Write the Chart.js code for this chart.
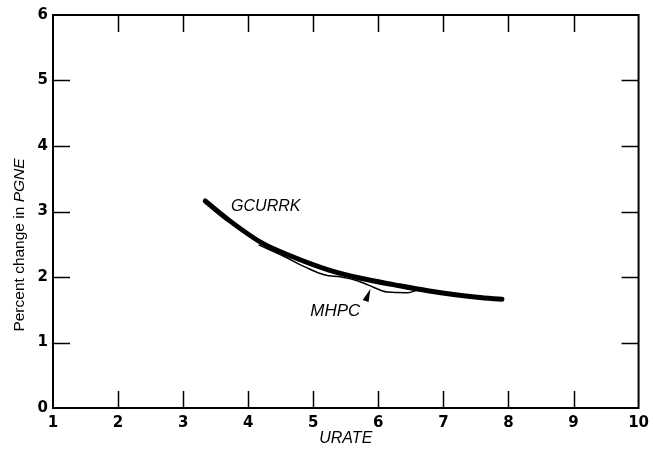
<!DOCTYPE html>
<html>
<head>
<meta charset="utf-8">
<script src="https://cdn.jsdelivr.net/npm/chart.js@4.4.0/dist/chart.umd.min.js"></script>
<style>
  html, body { margin: 0; padding: 0; background: #fff; }
  #wrap { width: 655px; height: 451px; }
</style>
</head>
<body>
<div id="wrap"><canvas id="myChart" width="655" height="451"></canvas></div>
<script>
// datos
const gcurrkX = [3.34, 3.70, 4.21, 4.73, 5.23, 5.73, 6.25, 6.76, 7.52, 7.90];
const gcurrkY = [3.16, 2.87, 2.52, 2.29, 2.11, 1.98, 1.88, 1.79, 1.69, 1.66];
const mhpcX = [4.16, 4.54, 4.88, 5.18, 5.43, 5.69, 5.84, 6.14, 6.45, 6.60];
const mhpcY = [2.49, 2.32, 2.15, 2.03, 2.00, 1.94, 1.88, 1.77, 1.76, 1.80];
const xTicks = [1, 2, 3, 4, 5, 6, 7, 8, 9, 10];
const yTicks = [0, 1, 2, 3, 4, 5, 6];

const FONT = "'Liberation Sans', Arial, sans-serif";
const TICKFONT = "'DejaVu Sans', sans-serif";
const pares = (xs, ys) => xs.map((x, i) => ({ x: x, y: ys[i] }));

// marco, marcas interiores, títulos y etiquetas
const decoracion = {
  id: "decoracion",
  afterDraw(c) {
    const ctx = c.ctx;
    const { left, right, top, bottom } = c.chartArea;
    const sx = c.scales.x, sy = c.scales.y;
    ctx.save();
    ctx.strokeStyle = "#000";
    ctx.lineWidth = 2;
    ctx.strokeRect(left, top, right - left, bottom - top);

    ctx.lineWidth = 1.5;
    const L = 17;
    xTicks.slice(1, -1).forEach(v => {
      const px = Math.round(sx.getPixelForValue(v)) + 0.5;
      ctx.beginPath();
      ctx.moveTo(px, bottom); ctx.lineTo(px, bottom - L);
      ctx.moveTo(px, top); ctx.lineTo(px, top + L);
      ctx.stroke();
    });
    yTicks.slice(1, -1).forEach(v => {
      const py = Math.round(sy.getPixelForValue(v)) + 0.5;
      ctx.beginPath();
      ctx.moveTo(left, py); ctx.lineTo(left + L, py);
      ctx.moveTo(right, py); ctx.lineTo(right - L, py);
      ctx.stroke();
    });

    // título eje x
    ctx.fillStyle = "#000";
    ctx.textAlign = "center";
    ctx.textBaseline = "middle";
    ctx.font = "italic 16px " + FONT;
    ctx.fillText("URATE", (left + right) / 2, 439);

    // título eje y (texto mixto)
    ctx.save();
    ctx.translate(20, 245);
    ctx.rotate(-Math.PI / 2);
    const a = "Percent change in ";
    const b = "PGNE";
    ctx.font = "15.5px " + FONT;
    const wa = ctx.measureText(a).width;
    ctx.font = "italic 15.5px " + FONT;
    const wb = ctx.measureText(b).width;
    const x0 = -(wa + wb) / 2;
    ctx.textAlign = "left";
    ctx.font = "15.5px " + FONT;
    ctx.fillText(a, x0, 0);
    ctx.font = "italic 15.5px " + FONT;
    ctx.fillText(b, x0 + wa, 0);
    ctx.restore();

    // etiquetas de las curvas
    ctx.font = "italic 16px " + FONT;
    ctx.textAlign = "center";
    ctx.fillText("GCURRK", sx.getPixelForValue(4.27), sy.getPixelForValue(3.08));
    ctx.font = "italic 17px " + FONT;
    ctx.fillText("MHPC", sx.getPixelForValue(5.34), sy.getPixelForValue(1.48));

    // flecha hacia MHPC
    ctx.beginPath();
    ctx.moveTo(sx.getPixelForValue(5.88), sy.getPixelForValue(1.82));
    ctx.lineTo(sx.getPixelForValue(5.76), sy.getPixelForValue(1.65));
    ctx.lineTo(sx.getPixelForValue(5.85), sy.getPixelForValue(1.62));
    ctx.closePath();
    ctx.fill();
    ctx.restore();
  }
};

const chart = new Chart(document.getElementById("myChart").getContext("2d"), {
  type: "scatter",
  data: {
    datasets: [
      {
        label: "GCURRK",
        data: pares(gcurrkX, gcurrkY),
        showLine: true,
        borderColor: "#000",
        borderWidth: 5,
        borderCapStyle: "round",
        pointRadius: 0,
        cubicInterpolationMode: "monotone"
      },
      {
        label: "MHPC",
        data: pares(mhpcX, mhpcY),
        showLine: true,
        borderColor: "#000",
        borderWidth: 1.5,
        pointRadius: 0,
        cubicInterpolationMode: "monotone"
      }
    ]
  },
  options: {
    responsive: false,
    animation: false,
    layout: { padding: { top: 15, right: 12, left: 0, bottom: 0 } },
    plugins: {
      legend: { display: false },
      tooltip: { enabled: false }
    },
    scales: {
      x: {
        type: "linear",
        min: 1, max: 10,
        afterBuildTicks: s => { s.ticks = xTicks.map(v => ({ value: v })); },
        ticks: { color: "#000", font: { family: TICKFONT, size: 15, weight: "bold" }, padding: 6, maxRotation: 0 },
        grid: { display: false, drawTicks: false },
        border: { display: false },
        afterFit: s => { s.height = 43; }
      },
      y: {
        type: "linear",
        min: 0, max: 6,
        afterBuildTicks: s => { s.ticks = yTicks.map(v => ({ value: v })); },
        ticks: { color: "#000", font: { family: TICKFONT, size: 15, weight: "bold" }, padding: 5 },
        grid: { display: false, drawTicks: false },
        border: { display: false },
        afterFit: s => { s.width = 53; }
      }
    }
  },
  plugins: [decoracion]
});
</script>
</body>
</html>
